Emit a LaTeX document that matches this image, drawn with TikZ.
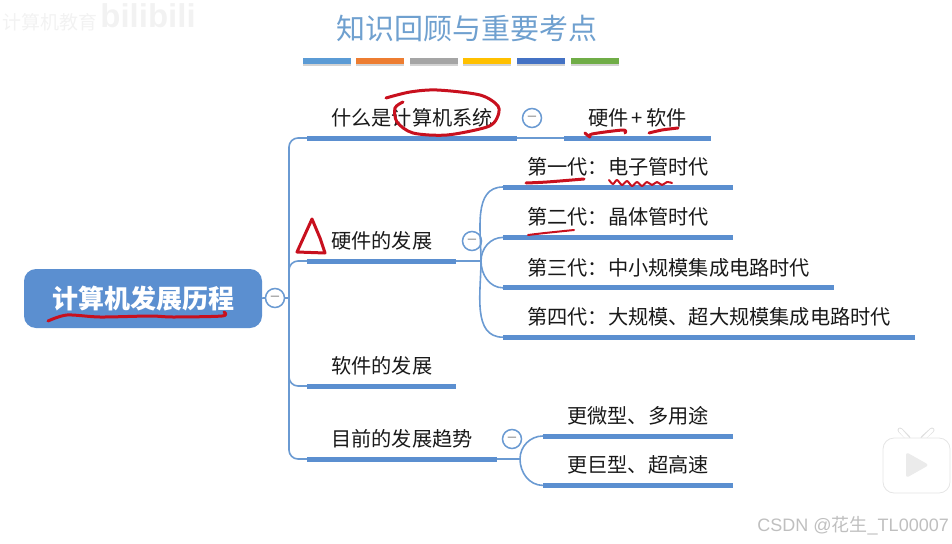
\documentclass[tikz,border=0pt]{standalone}
\usepackage{fontspec}
\setmainfont{Noto Sans CJK SC}
\newfontfamily\latinfont{Liberation Sans}
\usetikzlibrary{positioning, shadows}
\definecolor{barblue}{HTML}{5B8FD0}
\definecolor{linkblue}{HTML}{6A9AD2}
\definecolor{titleblue}{HTML}{6FA0CF}
\definecolor{pen}{HTML}{C8101E}
\newcommand{\px}[1]{\fontsize{#1}{#1}\selectfont}

\begin{document}
\begin{tikzpicture}[
  x=1pt, y=-1pt,
  font=\px{20.2},
  topic/.style={inner xsep=24pt, inner ysep=0pt, minimum height=40pt, text=black!90},
  rootbox/.style={rounded corners=12pt, fill=barblue, text=white, font=\px{26}\bfseries,
    minimum width=238pt, minimum height=59pt, inner sep=0pt},
  fold/.style={circle, draw=linkblue, line width=1.5pt, fill=white, minimum size=19pt,
    inner sep=0pt, text=black!45, font=\latinfont\px{15}},
  bar/.style={draw=barblue, line width=5pt},
  link/.style={draw=linkblue, line width=1.6pt},
  ruleline/.style={minimum width=48pt, minimum height=5.5pt, inner sep=0pt,
    drop shadow={shadow xshift=0pt, shadow yshift=-2pt, opacity=.35}},
  ink/.style={draw=pen, line width=3pt, line cap=round, line join=round},
  faint/.style={text=black!5}
]
\useasboundingbox (0,0) rectangle (952,543);

% heading and the row of colours under it
\node[text=titleblue, font=\px{29}] (title) at (467,29) {知识回顾与重要考点};
\foreach \c [count=\i] in {5B9BD5,ED7D31,A5A5A5,FFC000,4472C4,70AD47} {
  \definecolor{tone}{HTML}{\c}
  \node[ruleline, fill=tone] (tone\i) at ({326.5+53.6*(\i-1)},61) {};
}

\node[rootbox] (root) at (143,298.5) {计算机发展历程};
\node[fold] (fold0) at (275,298) {–};
\coordinate (tr) at (289,298);

\node[topic, anchor=south west] (sys) at (307,138) {什么是计算机系统};
\node[topic, right=47pt of sys] (hwsw) {硬件\,+\,软件};
\node[topic, anchor=south west] (hwd) at (307,261) {硬件的发展};
\node[topic, anchor=south west] (swd) at (307,386) {软件的发展};
\node[topic, anchor=south west] (trd) at (307,459) {目前的发展趋势};

\node[topic, anchor=south west] (gen1) at (503,187) {第一代：电子管时代};
\node[topic, below=10pt of gen1.south west, anchor=north west] (gen2) {第二代：晶体管时代};
\node[topic, below=10pt of gen2.south west, anchor=north west] (gen3) {第三代：中小规模集成电路时代};
\node[topic, below=9pt of gen3.south west, anchor=north west] (gen4) {第四代：大规模、超大规模集成电路时代};

\node[topic, anchor=south west] (small) at (543,436) {更微型、多用途};
\node[topic, below=9pt of small.south west, anchor=north west] (big) {更巨型、超高速};

\node[fold] (fold1) at (532,118) {–};
\node[fold] (fold2) at (472,241) {–};
\node[fold] (fold3) at (512,439) {–};

\coordinate (hub2) at (481,261);
\coordinate (hub3) at (520,459);

\begin{scope}[link]
  \draw (root) -- (fold0);
  \draw (fold0) -- (tr);
  \foreach \n in {sys,hwd,swd,trd}
    \draw[rounded corners=9pt] (\n.south west) -| (tr);
  \draw (sys.south east) -- (hwsw.south west);
  \draw (hwd.south east) -- (hub2);
  \draw (trd.south east) -- (hub3);
  \foreach \n in {gen1,gen2}
    \draw (hub2) to[out=90, in=180] (\n.south west);
  \foreach \n in {gen3,gen4}
    \draw (hub2) to[out=-90, in=180] (\n.south west);
  \draw (hub3) to[out=90, in=180] (small.south west);
  \draw (hub3) to[out=-90, in=180] (big.south west);
\end{scope}

\foreach \n in {sys,hwsw,hwd,swd,trd,gen1,gen2,gen3,gen4,small,big}
  \draw[bar] (\n.south west) -- (\n.south east);

% handwriting on top of the slide
\draw[ink] plot[smooth] coordinates {(386,98) (410,92) (437,90) (480,95) (498,106) (497,118) (487,127) (447,135) (413,133) (397,122) (395,108) (403,102)};
\draw[ink] plot[smooth] coordinates {(585,133) (590,137) (592,134) (623,130) (625,133)};
\draw[ink] plot[smooth] coordinates {(649,133) (662,130) (678,128)};
\draw[ink] plot[smooth] coordinates {(526,183) (547,182) (584,179)};
\draw[ink, line width=2pt] plot[smooth] coordinates {(609,180) (613,184) (617,180) (622,185) (627,181) (632,186) (637,182) (642,186) (647,182) (652,185) (657,182) (662,185) (667,182) (672,183)};
\draw[ink, line width=2pt] plot[smooth] coordinates {(528,235) (545,233) (574,230)};
\draw[ink] (312,219) -- (297,252) -- (325,253) -- (320,238) -- cycle;
\draw[ink] plot[smooth] coordinates {(48,321) (67,315) (100,317) (150,316) (173,317) (222,316) (224,312)};

% watermarks
\node[faint, font=\px{19}] (wm1) at (50,22) {计算机教育};
\node[faint, font=\latinfont\px{33}\bfseries] (wm2) at (148,16) {bilibili};
\node[text=black!25, font=\latinfont\px{18}, anchor=east, inner sep=0pt] (csdn) at (949,526) {CSDN @{\rmfamily 花生}\_TL00007};

\draw[black!12, line width=5pt, line cap=round] (900,430) -- (908,438) (932,430) -- (923,438);
\draw[white, line width=3.5pt, line cap=round] (900,430) -- (908,439) (932,430) -- (923,439);
\fill[white, draw=black!10, line width=.8pt, rounded corners=11pt] (883,438) rectangle (950,493);
\fill[black!8, rounded corners=3pt] (906,452) -- (929,465) -- (906,478) -- cycle;
\end{tikzpicture}
\end{document}
